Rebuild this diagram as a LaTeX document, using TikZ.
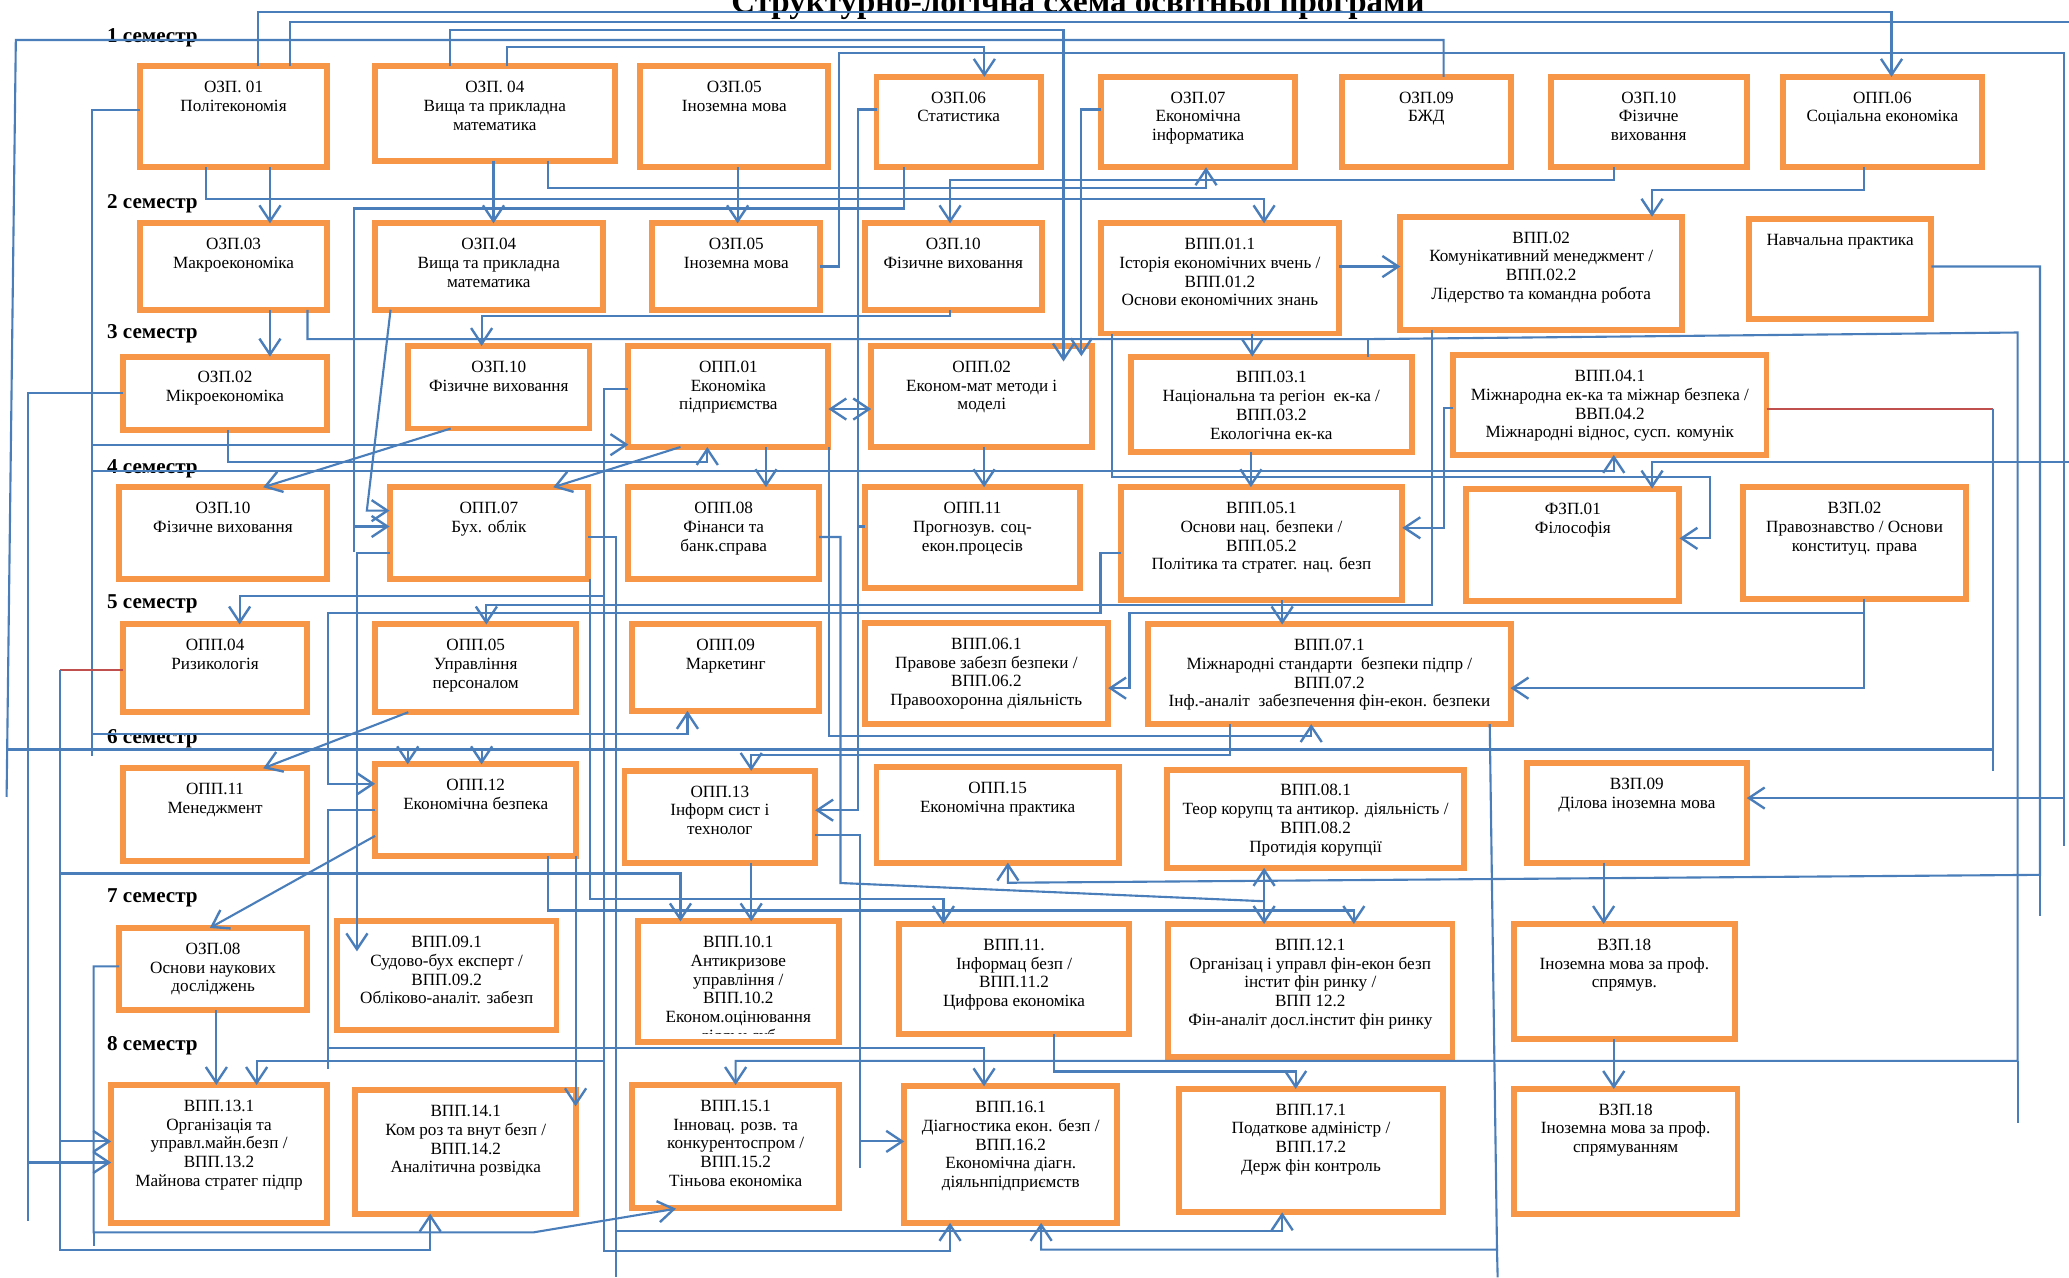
\documentclass[tikz,border=0pt]{standalone}
\usepackage{fontspec}
\setmainfont{Liberation Serif}
\usetikzlibrary{arrows.meta}
\definecolor{bor}{HTML}{F79646}
\definecolor{lbl}{HTML}{4A7EBB}
\definecolor{lrd}{HTML}{C0504D}
\newcommand\bxfont{\fontsize{13}{14.2}\selectfont}
\newcommand\bx[6]{%
 \node[bx, minimum width={(#4-#2-4.5)*1pt}, minimum height={(#5-#3-4.5)*1pt}] (#1) at ({#2+2.25},{#3+2.25}) {};
 \node[bt] (#1t) at ([yshift=-9.8pt]#1.north) {\strut #6};}
\tikzset{
 bx/.style={draw=bor, line width=4.5pt, fill=white, inner sep=0pt, outer sep=0pt, anchor=north west},
 bt/.style={anchor=north, align=center, inner sep=0pt, font=\bxfont},
 ln/.style={draw=lbl, line width=1.6pt},
 arr/.style={ln, -{Straight Barb[length=12pt,width=16pt,line width=1.8pt]}},
 dbl/.style={ln, {Straight Barb[length=12pt,width=16pt,line width=1.8pt]}-{Straight Barb[length=12pt,width=16pt,line width=1.8pt]}},
 rl/.style={draw=lrd, line width=1.6pt},
 sem/.style={anchor=base west, font=\fontsize{16}{18}\selectfont\bfseries, inner sep=0pt},
}
\begin{document}
\begin{tikzpicture}[x=1pt,y=-1pt]
\useasboundingbox[fill=white] (0,0) rectangle (1568,968);
% ---------- boxes ----------
\bx{ozp01}{104}{48}{250}{129}{ОЗП. 01\\Політекономія}
\bx{ozp04a}{282}{48}{468}{124}{ОЗП. 04\\Вища та прикладна\\математика}
\bx{ozp05a}{483}{48}{630}{129}{ОЗП.05\\Іноземна мова}
\bx{ozp06}{662}{56}{791}{129}{ОЗП.06\\Статистика}
\bx{ozp07}{832}{56}{984}{129}{ОЗП.07\\Економічна\\інформатика}
\bx{ozp09}{1015}{56}{1147}{129}{ОЗП.09\\БЖД}
\bx{ozp10a}{1173}{56}{1326}{129}{ОЗП.10\\Фізичне\\виховання}
\bx{opp06}{1349}{56}{1504}{129}{ОПП.06\\Соціальна економіка}
\bx{ozp03}{104}{167}{250}{237}{ОЗП.03\\Макроекономіка}
\bx{ozp04b}{282}{167}{459}{237}{ОЗП.04\\Вища та прикладна\\математика}
\bx{ozp05b}{492}{167}{624}{237}{ОЗП.05\\Іноземна мова}
\bx{ozp10b}{653}{167}{792}{237}{ОЗП.10\\Фізичне виховання}
\bx{vpp01}{832}{167}{1017}{255}{ВПП.01.1\\Історія економічних вчень /\\ВПП.01.2\\Основи економічних знань}
\bx{vpp02}{1059}{162}{1277}{252}{ВПП.02\\Комунікативний менеджмент /\\ВПП.02.2\\Лідерство та командна робота}
\bx{npr}{1323}{164}{1466}{244}{Навчальна практика}
\bx{ozp02}{91}{268}{250}{328}{ОЗП.02\\Мікроекономіка}
\bx{ozp10c}{307}{260}{449}{327}{ОЗП.10\\Фізичне виховання}
\bx{opp01}{474}{260}{630}{341}{ОПП.01\\Економіка\\підприємства}
\bx{opp02}{658}{260}{830}{341}{ОПП.02\\Економ-мат методи і\\моделі}
\bx{vpp03}{855}{268}{1072}{345}{ВПП.03.1\\Національна та регіон\ \ ек-ка /\\ВПП.03.2\\Екологічна ек-ка}
\bx{vpp04}{1099}{267}{1341}{347}{ВПП.04.1\\Міжнародна ек-ка та міжнар безпека /\\ВВП.04.2\\Міжнародні віднос, сусп. комунік}
\bx{ozp10d}{88}{367}{250}{441}{ОЗП.10\\Фізичне виховання}
\bx{opp07}{293}{367}{448}{441}{ОПП.07\\Бух. облік}
\bx{opp08}{474}{367}{623}{441}{ОПП.08\\Фінанси та\\банк.справа}
\bx{opp11a}{653}{367}{821}{448}{ОПП.11\\Прогнозув. соц-\\екон.процесів}
\bx{vpp05}{847}{367}{1065}{457}{ВПП.05.1\\Основи нац. безпеки /\\ВПП.05.2\\Політика та стратег. нац. безп}
\bx{fzp01}{1109}{368}{1275}{458}{ФЗП.01\\Філософія}
\bx{vzp02}{1319}{367}{1492}{456}{ВЗП.02\\Правознавство / Основи\\конституц. права}
\bx{opp04}{91}{471}{235}{542}{ОПП.04\\Ризикологія}
\bx{opp05}{282}{471}{439}{542}{ОПП.05\\Управління\\персоналом}
\bx{opp09}{477}{471}{623}{541}{ОПП.09\\Маркетинг}
\bx{vpp06}{653}{470}{842}{551}{ВПП.06.1\\Правове забезп безпеки /\\ВПП.06.2\\Правоохоронна діяльність}
\bx{vpp07}{868}{471}{1147}{551}{ВПП.07.1\\Міжнародні стандарти\ \ безпеки підпр /\\ВПП.07.2\\Інф.-аналіт\ \ забезпечення фін-екон. безпеки}
\bx{opp11b}{91}{580}{235}{655}{ОПП.11\\Менеджмент}
\bx{opp12}{282}{577}{439}{651}{ОПП.12\\Економічна безпека}
\bx{opp13}{471}{582}{620}{656}{ОПП.13\\Інформ сист і\\технолог}
\bx{opp15}{662}{579}{850}{656}{ОПП.15\\Економічна практика}
\bx{vpp08}{882}{581}{1112}{660}{ВПП.08.1\\Теор корупц та антикор. діяльність /\\ВПП.08.2\\Протидія корупції}
\bx{vzp09}{1155}{576}{1326}{656}{ВЗП.09\\Ділова іноземна мова}
\bx{ozp08}{88}{701}{235}{768}{ОЗП.08\\Основи наукових\\досліджень}
\bx{vpp09}{253}{696}{424}{783}{ВПП.09.1\\Судово-бух експерт /\\ВПП.09.2\\Обліково-аналіт. забезп}
\bx{vpp10}{481}{696}{638}{792}{ВПП.10.1\\Антикризове\\управління /\\ВПП.10.2\\Економ.оцінювання}
\begin{scope}
\clip (484,700) rectangle (635,783.5);
\node[anchor=base, inner sep=0pt, font=\bxfont] (vpp10x) at (559.5,789) {діяльн.суб};
\end{scope}
\bx{vpp11}{679}{698}{858}{786}{ВПП.11.\\Інформац безп /\\ВПП.11.2\\Цифрова економіка}
\bx{vpp12}{883}{698}{1103}{803}{ВПП.12.1\\Організац і управл фін-екон безп\\інстит фін ринку /\\ВПП 12.2\\Фін-аналіт досл.інстит фін ринку}
\bx{vzp18a}{1145}{698}{1317}{790}{ВЗП.18\\Іноземна мова за проф.\\спрямув.}
\bx{vpp13}{82}{820}{250}{929}{ВПП.13.1\\Організація та\\управл.майн.безп /\\ВПП.13.2\\Майнова стратег підпр}
\bx{vpp14}{267}{824}{439}{922}{ВПП.14.1\\Ком роз та внут безп /\\ВПП.14.2\\Аналітична розвідка}
\bx{vpp15}{477}{820}{638}{918}{ВПП.15.1\\Інновац. розв. та\\конкурентоспром /\\ВПП.15.2\\Тіньова економіка}
\bx{vpp16}{683}{821}{849}{929}{ВПП.16.1\\Діагностика екон. безп /\\ВПП.16.2\\Економічна діагн.\\діяльнпідприємств}
\bx{vpp17}{891}{823}{1096}{921}{ВПП.17.1\\Податкове адміністр /\\ВПП.17.2\\Держ фін контроль}
\bx{vzp18b}{1145}{823}{1319}{922}{ВЗП.18\\Іноземна мова за проф.\\спрямуванням}
% ---------- title & semesters ----------
\node[anchor=base, inner sep=0pt, font=\fontsize{25}{28}\selectfont\bfseries] (title) at (817,9.5) {Структурно-логічна схема освітньої програми};
\node[sem] (s1) at (81,32.3) {1 семестр};
\node[sem] (s2) at (81,157.8) {2 семестр};
\node[sem] (s3) at (81,256.3) {3 семестр};
\node[sem] (s4) at (81,358.6) {4 семестр};
\node[sem] (s5) at (81,460.9) {5 семестр};
\node[sem] (s6) at (81,563.2) {6 семестр};
\node[sem] (s7) at (81,683.9) {7 семестр};
\node[sem] (s8) at (81,796) {8 семестр};
% ---------- connectors ----------
\draw[arr] (195.5,0 |- ozp01.north) -- (195.5,8.8) -- (1433.5,8.8) -- (1433.5,0 |- opp06.north);
\draw[ln] (220,0 |- ozp01.north) -- (220,16.4) -- (1568,16.4);
\draw[arr] (341,0 |- ozp04a.north) -- (341,22.7) -- (806,22.7) -- (806,274);
\draw[ln] (1094,0 |- ozp09.north) -- (1094,30.3) -- (12,30.3) -- (5,604);
\draw[ln] (5,568) -- (1510.5,568);
\draw[arr] (309,568) -- (309,0 |- opp12.north);
\draw[arr] (365,568) -- (365,0 |- opp12.north);
\draw[arr] (384.5,0 |- ozp04a.north) -- (384.5,35.4) -- (746,35.4) -- (746,0 |- ozp06.north);
\draw[ln] (ozp05b.east |- 0,202) -- (636,202) -- (636,40.4) -- (1564,40.4) -- (1564,641);
\draw[arr] (1564,604.8) -- (vzp09.east |- 0,604.8);
\draw[arr] (156,0 |- ozp01.south) -- (156,151) -- (958,151) -- (958,0 |- vpp01.north);
\draw[arr] (204.6,0 |- ozp01.south) -- (204.6,0 |- ozp03.north);
\draw[arr] (1223,0 |- ozp10a.south) -- (1223,136.4) -- (720,136.4) -- (720,0 |- ozp10b.north);
\draw[arr] (415,0 |- ozp04a.south) -- (415,142.7) -- (914,142.7) -- (914,0 |- ozp07.south);
\draw[arr] (685,0 |- ozp06.south) -- (685,158) -- (268,158) -- (268,399) -- (opp07.west |- 0,399);
\draw[ln] (268,399) -- (268,418);
\draw[arr] (374,0 |- ozp04a.south) -- (374,0 |- ozp04b.north);
\draw[arr] (559,0 |- ozp05a.south) -- (559,0 |- ozp05b.north);
\draw[arr] (296,0 |- ozp04b.south) -- (278,387) -- (opp07.west |- 0,387);
\draw[arr] (204.6,0 |- ozp03.south) -- (204.6,0 |- ozp02.north);
\draw[arr] (720,0 |- ozp10b.south) -- (720,239.4) -- (365,239.4) -- (365,0 |- ozp10c.north);
\draw[arr] (233,0 |- ozp03.south) -- (233,257) -- (1037,257) -- (1529,252) -- (1529,804) -- (557.5,804) -- (557.5,0 |- vpp15.north);
\draw[ln] (1037,257) -- (1037,0 |- vpp03.north);
\draw[ln] (1529,804) -- (1529,851);
\draw[arr] (ozp02.west |- 0,298) -- (21,298) -- (21,881) -- (vpp13.west |- 0,881);
\draw[ln] (21,881) -- (21,925.5);
\draw[arr] (ozp01.west |- 0,83.3) -- (70,83.3) -- (70,337) -- (opp01.west |- 0,337);
\draw[ln] (70,337) -- (70,573);
\draw[arr] (70,357) -- (1223,357) -- (1223,0 |- vpp04.south);
\draw[arr] (70,556) -- (521,556) -- (521,0 |- opp09.south);
\draw[arr] (172.5,0 |- ozp02.south) -- (172.5,350) -- (536,350) -- (536,0 |- opp01.south);
\draw[arr] (341.6,0 |- ozp10c.south) -- (199.5,0 |- ozp10d.north);
\draw[arr] (515.7,0 |- opp01.south) -- (419.3,0 |- opp07.north);
\draw[arr] (opp01.west |- 0,295) -- (458,295) -- (458,452) -- (181.6,452) -- (181.6,0 |- opp04.north);
\draw[arr] (458,452) -- (458,948) -- (720,948) -- (720,0 |- vpp16.south);
\draw[arr] (458,804) -- (194.5,804) -- (194.5,0 |- vpp13.north);
\draw[ln] (opp07.east |- 0,407) -- (466.7,407) -- (466.7,968);
\draw[arr] (466.7,933) -- (971.7,933) -- (971.7,0 |- vpp17.south);
\draw[arr] (447,0 |- opp07.south) -- (447,681) -- (715,681) -- (715,0 |- vpp11.north);
\draw[dbl] (opp01.east |- 0,310) -- (opp02.west |- 0,310);
\draw[arr] (ozp06.west |- 0,83) -- (650,83) -- (650,614) -- (opp13.east |- 0,614);
\draw[ln] (opp11a.west |- 0,399) -- (650,399);
\draw[arr] (opp13.east |- 0,633) -- (652,633) -- (652,865) -- (vpp16.west |- 0,865);
\draw[ln] (652,865) -- (652,885);
\draw[arr] (ozp07.west |- 0,83) -- (819.5,83) -- (819.5,270);
\draw[arr] (949,0 |- vpp01.south) -- (949,0 |- vpp03.north);
\draw[arr] (842.5,0 |- vpp01.south) -- (842.5,361.6) -- (1296,361.6) -- (1296,408) -- (fzp01.east |- 0,408);
\draw[arr] (vpp01.east |- 0,202) -- (vpp02.west |- 0,202);
\draw[arr] (1412.5,0 |- opp06.south) -- (1412.5,144) -- (1252,144) -- (1252,0 |- vpp02.north);
\draw[arr] (1085.5,0 |- vpp02.south) -- (1085.5,458.3) -- (368.6,458.3) -- (368.6,0 |- opp05.north);
\draw[arr] (vpp04.west |- 0,309) -- (1094,309) -- (1094,400) -- (vpp05.east |- 0,400);
\draw[arr] (1568,349.8) -- (1252,349.8) -- (1252,0 |- fzp01.north);
\draw[arr] (948,0 |- vpp03.south) -- (948,0 |- vpp05.north);
\draw[arr] (580.5,0 |- opp01.south) -- (580.5,0 |- opp08.north);
\draw[arr] (745.8,0 |- opp02.south) -- (745.8,0 |- opp11a.north);
\draw[arr] (971.7,0 |- vpp05.south) -- (971.7,0 |- vpp07.north);
\draw[arr] (vpp05.west |- 0,419) -- (834,419) -- (834,464.7) -- (248.6,464.7) -- (248.6,594) -- (opp12.west |- 0,594);
\draw[arr] (opp12.west |- 0,613.7) -- (248.6,613.7) -- (248.6,794) -- (745.8,794) -- (745.8,0 |- vpp16.north);
\draw[ln] (248.6,794) -- (248.6,810);
\draw[arr] (1412.5,0 |- vzp02.south) -- (1412.5,521.5) -- (vpp07.east |- 0,521.5);
\draw[arr] (1412.5,464.7) -- (856,464.7) -- (856,521.5) -- (vpp06.east |- 0,521.5);
\draw[rl] (vpp04.east |- 0,310) -- (1510.5,310);
\draw[ln] (1510.5,310) -- (1510.5,584.6);
\draw[arr] (932,0 |- vpp07.south) -- (932,572) -- (569.3,572) -- (569.3,0 |- opp13.north);
\draw[arr] (628.5,0 |- opp01.south) -- (628.5,557.6) -- (993.7,557.6) -- (993.7,0 |- vpp07.south);
\draw[arr] (309.4,0 |- opp05.south) -- (199.5,0 |- opp11b.north);
\draw[rl] (opp04.west |- 0,507.6) -- (45.6,507.6);
\draw[arr] (45.6,507.6) -- (45.6,947) -- (326,947) -- (326,0 |- vpp14.south);
\draw[arr] (45.6,865) -- (vpp13.west |- 0,865);
\draw[arr] (45.6,662) -- (515.7,662) -- (515.7,0 |- vpp10.north);
\draw[arr] (ozp08.west |- 0,732.4) -- (71,732.4) -- (71,934) -- (404,934) -- (512.3,916);
\draw[ln] (71,934) -- (71,944.5);
\draw[arr] (164,0 |- ozp08.south) -- (164,0 |- vpp13.north);
\draw[arr] (opp12.west |- 0,633.5) -- (159,0 |- ozp08.north);
\draw[arr] (opp07.west |- 0,419) -- (270.5,419) -- (270.5,721);
\draw[arr] (415,0 |- opp12.south) -- (415,690) -- (1026,690) -- (1026,0 |- vpp12.north);
\draw[arr] (436.2,0 |- opp12.south) -- (436.2,838.4);
\draw[arr] (569.3,0 |- opp13.south) -- (569.3,0 |- vpp10.north);
\draw[ln] (opp08.east |- 0,407) -- (637,407) -- (637,669.2) -- (958,683);
\draw[arr] (958,683) -- (958,0 |- vpp12.north);
\draw[arr] (958,683) -- (958,0 |- vpp08.south);
\draw[arr] (npr.east |- 0,202) -- (1546,202) -- (1546,663) -- (763.8,669) -- (763.8,0 |- opp15.south);
\draw[ln] (1546,663) -- (1546,694.5);
\draw[arr] (798.6,0 |- vpp11.south) -- (798.6,812) -- (981.9,812) -- (981.9,0 |- vpp17.north);
\draw[arr] (1129,0 |- vpp07.south) -- (1134.5,947) -- (789,947) -- (789,0 |- vpp16.south);
\draw[ln] (1134.5,947) -- (1135,968);
\draw[arr] (1215.3,0 |- vzp09.south) -- (1215.3,0 |- vzp18a.north);
\draw[arr] (1223,0 |- vzp18a.south) -- (1223,0 |- vzp18b.north);
\end{tikzpicture}
\end{document}
